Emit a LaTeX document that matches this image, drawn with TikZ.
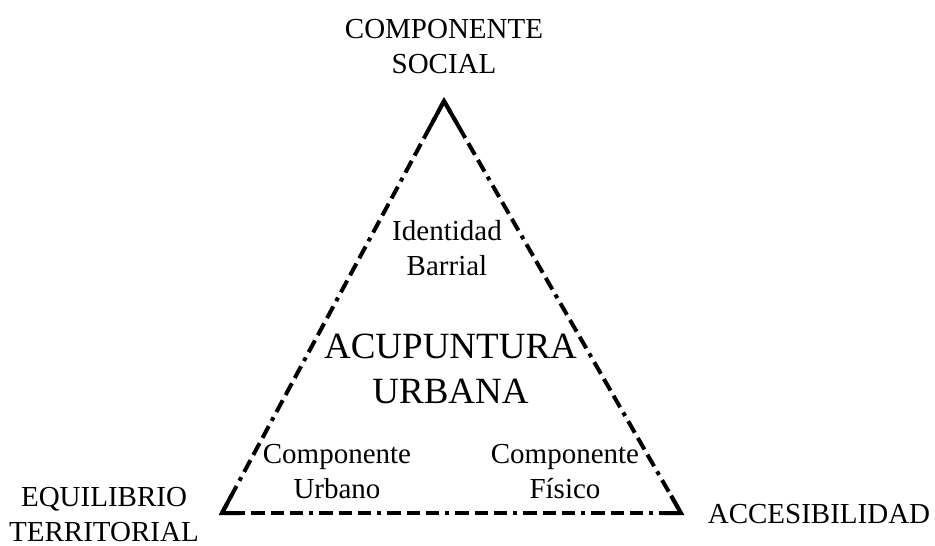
\documentclass[tikz,border=0pt]{standalone}
\usepackage{fontspec}
\setmainfont{Liberation Serif}
\usetikzlibrary{calc}
\begin{document}
\begin{tikzpicture}[x=0.75pt,y=-0.75pt,
  lbl/.style={inner sep=0pt, align=center, anchor=base, font=\fontsize{21.75pt}{26pt}\selectfont},
  big/.style={inner sep=0pt, align=center, anchor=base, font=\fontsize{27.75pt}{33.75pt}\selectfont},
  side/.style={line width=3pt, dash pattern=on 10pt off 4.5pt on 3pt off 4.5pt on 10pt off 4.5pt on 10pt off 4.5pt},
  corner/.style={line width=3pt, miter limit=10}]
\useasboundingbox (0,0) rectangle (935,546);
\coordinate (T) at (444,101);
\coordinate (L) at (222,513);
\coordinate (R) at (681,513);
\draw[side] (T) -- (L);
\draw[side] (T) -- (R);
\draw[side] (L) -- (R);
\draw[corner] ($(T)!22pt!(L)$) -- (T) -- ($(T)!22pt!(R)$);
\draw[corner] ($(L)!15pt!(T)$) -- (L) -- ($(L)!15pt!(R)$);
\draw[corner] ($(R)!15pt!(T)$) -- (R) -- ($(R)!15pt!(L)$);
\node[lbl] (soc) at (444,73) {COMPONENTE\\SOCIAL};
\node[lbl] (id) at (447,275) {Identidad\\Barrial};
\node[big] (acu) at (450.5,403) {ACUPUNTURA\\URBANA};
\node[lbl] (urb) at (337,498) {Componente\\Urbano};
\node[lbl] (fis) at (565,498) {Componente\\Físico};
\node[lbl] (eq) at (104,541) {EQUILIBRIO\\TERRITORIAL};
\node[lbl] (acc) at (819,523) {ACCESIBILIDAD};
\end{tikzpicture}
\end{document}
